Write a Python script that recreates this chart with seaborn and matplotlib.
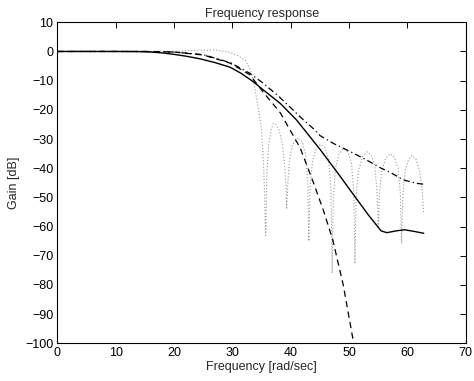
import numpy as np
import pandas as pd
import seaborn as sns
import matplotlib
matplotlib.use("Agg")
import matplotlib.pyplot as plt

# solid curve
solid_w = [0, 5, 10, 14, 16, 18, 20, 22, 24.4, 27, 29.6, 31.5, 33.6, 35.3, 38.2, 41, 45,
           48, 50, 53.3, 55.5, 56.5, 58, 59.5, 61, 62.8]
solid_db = [0, 0, 0, -0.05, -0.2, -0.5, -1, -1.6, -2.5, -3.8, -5.4, -7.5, -10.4, -13.2, -17.8, -23.5, -33.5,
            -41.5, -47, -56, -61.5, -62.1, -61.5, -61.1, -61.6, -62.3]

# dashed curve (steep)
dash_w = [0, 10, 15, 20, 25, 29.6, 33, 35.3, 38.2, 41.6, 43.9, 45.6, 47.2, 49, 50.7, 51.3]
dash_db = [0, 0, 0, -0.2, -1.2, -4, -8, -14, -21, -33, -45, -54.5, -64.5, -80, -99, -106]

# dash-dot curve
dd_w = [0, 10, 15, 20, 25, 29.6, 33, 35.3, 38, 40, 41.6, 43.9, 45, 47.3, 50.2, 53, 55.5,
        57.3, 59.3, 61.6, 62.8]
dd_db = [0, 0, 0, -0.2, -1.1, -3.8, -7.5, -10.9, -15.5, -19.3, -22.4, -26.5, -28.8, -31.5,
         -34.3, -37.2, -40, -41.7, -44, -45.2, -45.5]

# dotted curve (equiripple with nulls)
dot_w = [0, 10, 15, 20, 24, 27, 29.6, 31, 32.2, 33, 33.6, 34.4, 35, 35.3, 35.5, 35.7,
         35.9, 36.2, 36.6, 37.0, 37.5, 38, 38.5, 38.9, 39.2, 39.3,
         39.5, 39.8, 40.3, 41.2, 42, 42.5, 42.9, 43.1,
         43.3, 43.7, 44.3, 45.1, 45.9, 46.5, 46.9, 47.1,
         47.3, 47.7, 48.3, 49.1, 49.8, 50.4, 50.8, 51.0,
         51.2, 51.6, 52.3, 53.1, 53.8, 54.4, 54.8, 55.0,
         55.2, 55.6, 56.3, 57.1, 57.8, 58.4, 58.8, 59.0,
         59.2, 59.6, 60.2, 60.8, 61.5, 62.1, 62.5, 62.8]
dot_db = [0, 0, 0, 0.1, 0.4, 0.5, -0.3, -1.5, -3, -6, -10, -19, -27, -37, -48, -63,
          -42, -32, -27, -24.7, -25, -27, -31, -38, -46, -54,
          -45, -37, -32, -29.5, -31, -35, -44, -65,
          -47, -38, -33.5, -31.8, -33, -37, -48, -76,
          -50, -40, -35, -33.3, -34.5, -38, -48, -72.7,
          -50, -41, -36, -34.4, -35.5, -39, -48, -60.7,
          -49, -41, -36.5, -35, -36.5, -40, -49, -65.8,
          -50, -41, -37, -35.6, -37, -41, -47, -55.6]

sns.set_theme(style="white")
plt.rcParams['font.family'] = ['Liberation Sans', 'DejaVu Sans']
plt.rcParams['font.size'] = 9

fig = plt.figure(figsize=(4.74, 3.81), dpi=100)
ax = fig.add_axes([0.1213, 0.099, 0.8612, 0.8425])

sns.lineplot(x=dot_w, y=dot_db, ax=ax, color="#9a9a9a", linestyle=(0, (1, 1.8)), linewidth=0.8,
             sort=False, estimator=None)
sns.lineplot(x=dash_w, y=dash_db, ax=ax, color="black", linestyle=(0, (5, 3.5)), linewidth=0.9,
             sort=False, estimator=None)
sns.lineplot(x=dd_w, y=dd_db, ax=ax, color="black", linestyle=(0, (5, 2.5, 1, 2.5)), linewidth=0.9,
             sort=False, estimator=None)
sns.lineplot(x=solid_w, y=solid_db, ax=ax, color="black", linestyle="-", linewidth=1.0,
             sort=False, estimator=None)

ax.set_xlim(0, 70)
ax.set_ylim(-100, 10)
ax.set_xticks(np.arange(0, 71, 10))
ax.set_yticks(np.arange(-100, 11, 10))
ax.tick_params(direction="in", length=4, width=0.7, top=True, right=True,
               labelsize=9, colors="black", pad=3)
for s in ax.spines.values():
    s.set_color("black")
    s.set_linewidth(0.8)

ax.set_title("Frequency response", fontsize=9, pad=4)
ax.set_xlabel("Frequency [rad/sec]", fontsize=9, labelpad=1)
ax.set_ylabel("Gain [dB]", fontsize=9, labelpad=4)

fig.savefig("out.png", dpi=100, facecolor="white")
